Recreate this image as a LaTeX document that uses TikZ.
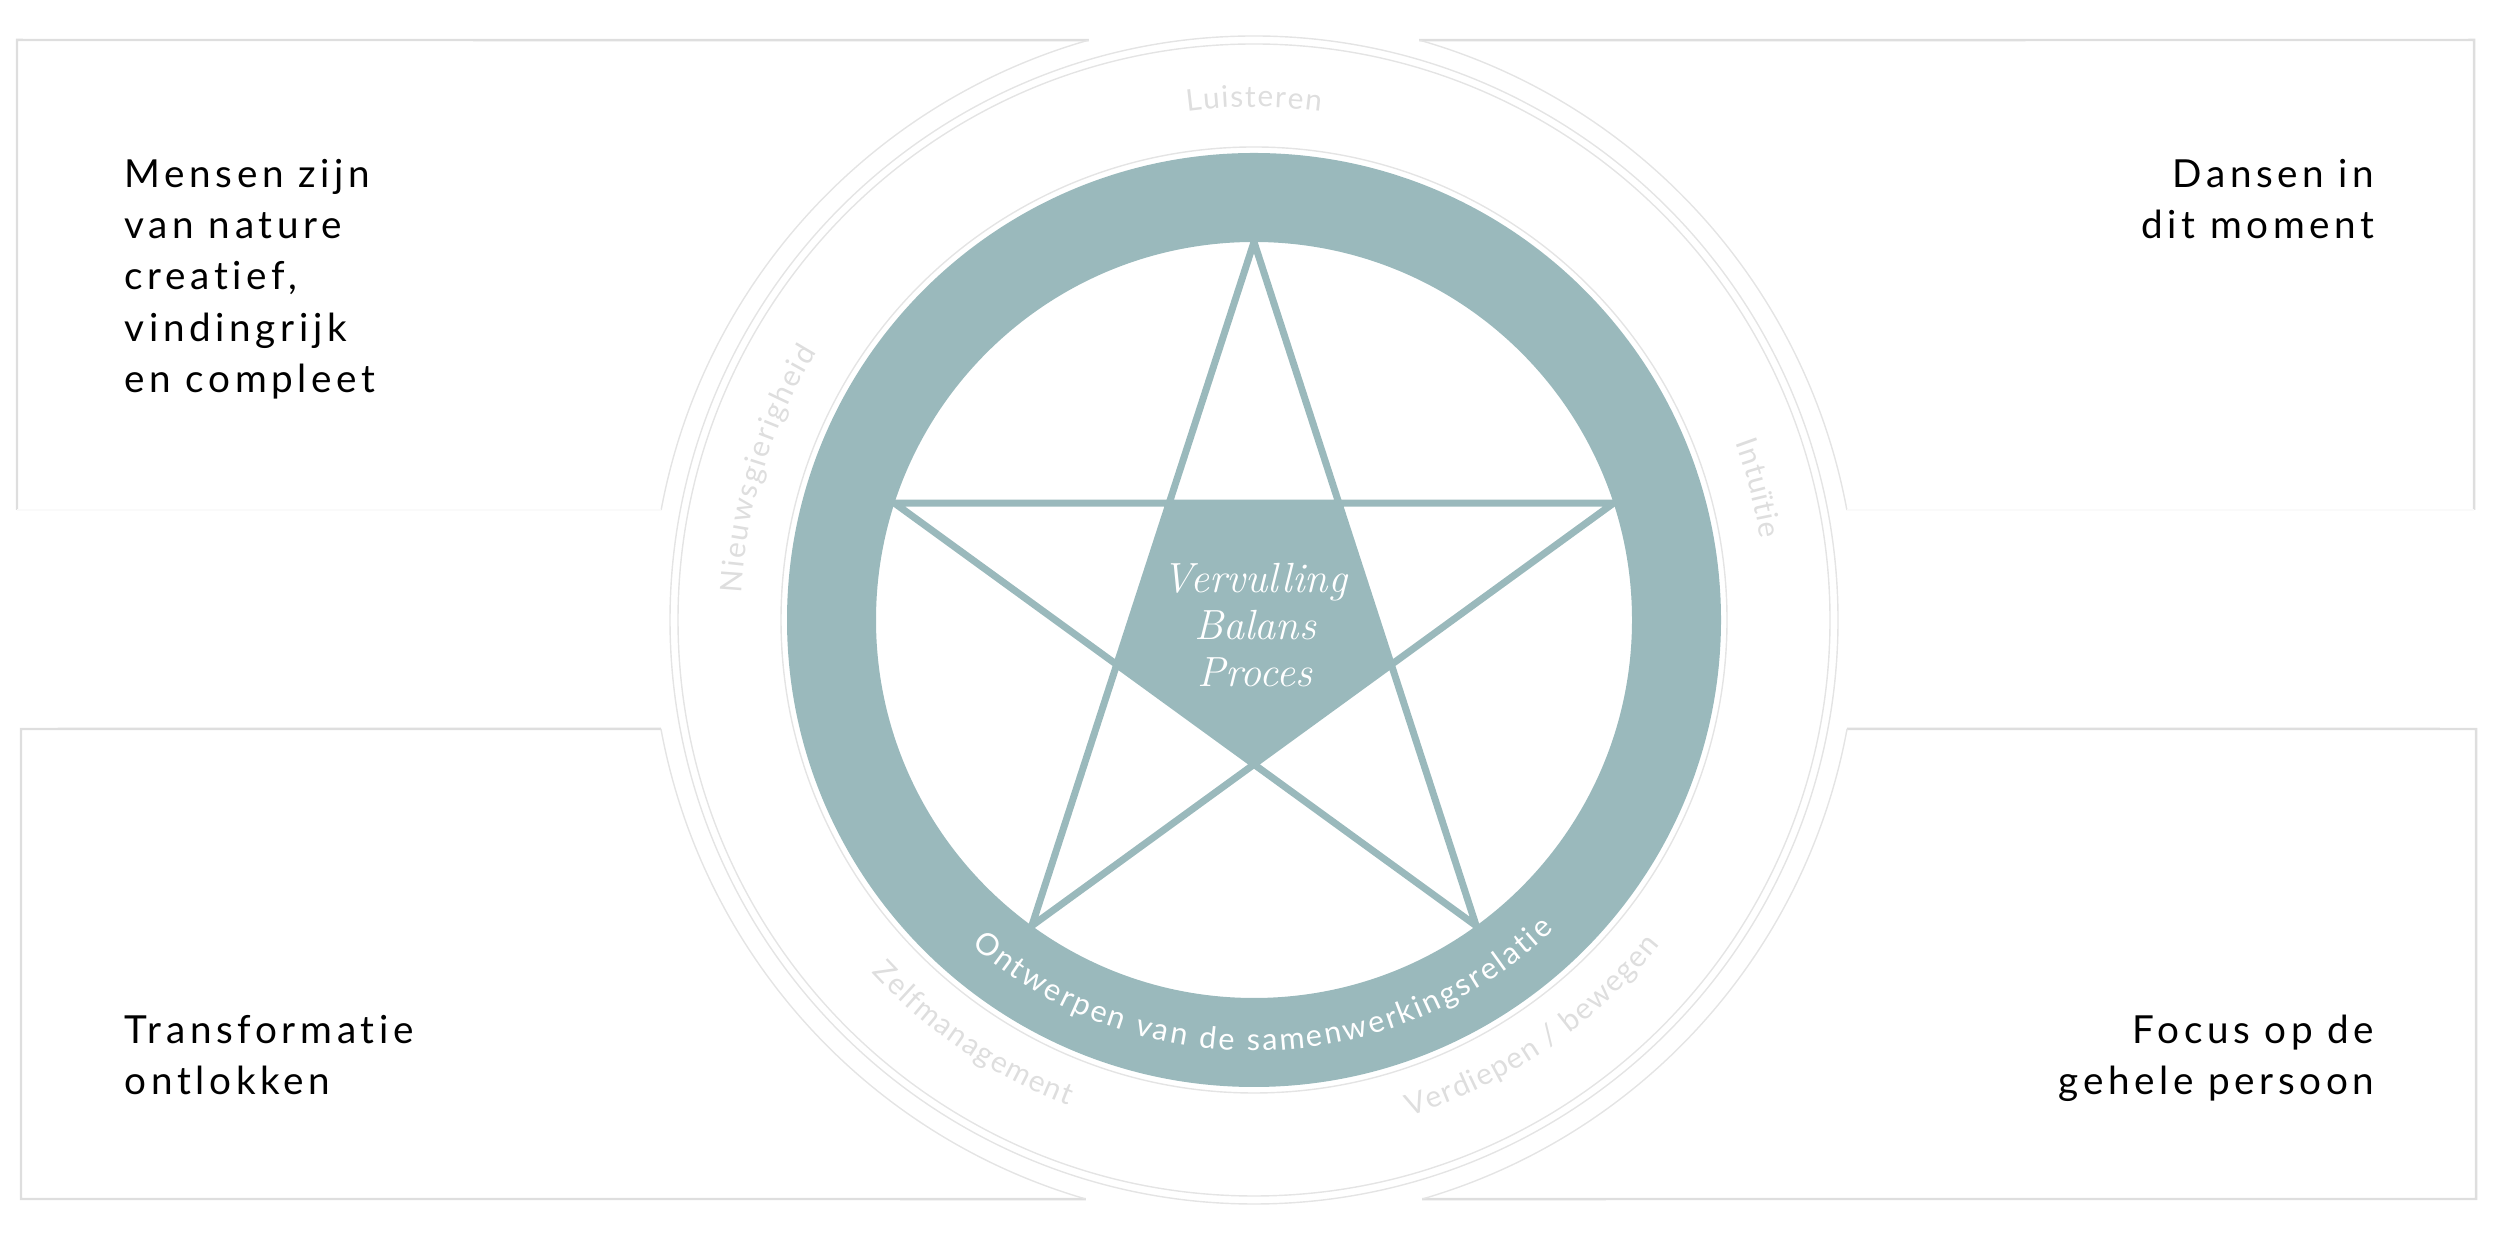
\documentclass[tikz,border=0pt]{standalone}
\usepackage{fontspec}
\usepackage{xcolor}
\usetikzlibrary{calc, decorations.text}

\newfontfamily\cornerfont{Lato}[LetterSpace=12, Ligatures=NoCommon]
\newfontfamily\ringfont{Lato}[Ligatures=NoCommon]
\definecolor{sage}{RGB}{154,185,188}
\definecolor{boxgray}{RGB}{222,222,222}
\definecolor{ringgray}{RGB}{228,228,228}
\definecolor{ghost}{RGB}{222,222,222}

\begin{document}
\begin{tikzpicture}

  \tikzset{
    boxline/.style={draw=boxgray, line width=0.7pt},
    boxfaint/.style={draw=black!2, line width=0.5pt},
    ringline/.style={draw=ringgray, line width=0.4pt},
    starline/.style={draw=sage, line width=0.07cm, line join=miter},
    cornertext/.style={font=\cornerfont\fontsize{11pt}{14.6pt}\selectfont, inner sep=0pt},
    coretext/.style={font=\itshape\fontsize{12pt}{13.4pt}\selectfont, text=white, inner sep=0pt, align=center},
    ghosttext/.style={decorate, decoration={text along path, text align={fit to path}, text color=ghost,
        text={|\ringfont\fontsize{8.5pt}{10pt}\selectfont|#1}}},
    bandtext/.style={decorate, decoration={text along path, text align={fit to path}, text color=white,
        text={|\ringfont\fontsize{8.7pt}{10pt}\selectfont|#1}}},
  }

  \useasboundingbox (0,0) rectangle (25,12.33);
  \coordinate (c) at (12.54,6.13);

  % corner frames
  \draw[boxline] (0.17,7.23) -- (0.17,11.93) -- ($(c)+(105.9:6.03)$);
  \draw[ringline] ($(c)+(105.9:6.03)$) arc[start angle=105.9, end angle=169.5, radius=6.03];
  \draw[boxfaint] ($(c)+(169.5:6.03)$) -- (0.17,7.23);

  \draw[boxline] ($(c)+(74.1:6.03)$) -- (24.74,11.93) -- (24.74,7.23);
  \draw[ringline] ($(c)+(10.5:6.03)$) arc[start angle=10.5, end angle=74.1, radius=6.03];
  \draw[boxfaint] (24.74,7.23) -- ($(c)+(10.5:6.03)$);

  \draw[boxline] ($(c)+(190.4:6.03)$) -- (0.21,5.04) -- (0.21,0.34) -- ($(c)+(253.8:6.03)$);
  \draw[ringline] ($(c)+(253.8:6.03)$) arc[start angle=253.8, end angle=190.4, radius=6.03];

  \draw[boxline] ($(c)+(349.6:6.03)$) -- (24.76,5.04) -- (24.76,0.34) -- ($(c)+(286.2:6.03)$);
  \draw[ringline] ($(c)+(286.2:6.03)$) arc[start angle=286.2, end angle=349.6, radius=6.03];

  % rings
  \draw[ringline] (c) circle (5.84);
  \draw[ringline] (c) circle (5.76);
  \draw[ringline] (c) circle (4.73);
  \fill[sage, even odd rule] (c) circle (4.67) (c) circle (3.78);

  % star
  \foreach \i in {1,...,5} {
    \coordinate (s\i) at ($(c)+({90+72*(\i-1)}:3.78)$);
    \coordinate (p\i) at ($(c)+({270+72*(\i-1)}:1.444)$);
  }
  \draw[starline] (s1) -- (s3) -- (s5) -- (s2) -- (s4) -- cycle;
  \fill[sage] (p1) -- (p2) -- (p3) -- (p4) -- (p5) -- cycle;

  \node[coretext, anchor=base] (core) at (12.55,5.46) {Vervulling\\Balans\\Proces};

  % ring labels
  \path[bandtext={Ontwerpen van de samenwerkingsrelatie}] ($(c)+(229:4.31)$) arc[start angle=229, end angle=314, radius=4.31];
  \path[ghosttext=Luisteren] ($(c)+(97.5:5.13)$) arc[start angle=97.5, end angle=82.5, radius=5.13];
  \path[ghosttext=Nieuwsgierigheid] ($(c)+(177:5.13)$) arc[start angle=177, end angle=148.5, radius=5.13];
  \path[ghosttext=Intuïtie] ($(c)+(20.2:5.13)$) arc[start angle=20.2, end angle=9.1, radius=5.13];
  \path[ghosttext=Zelfmanagement] ($(c)+(222.7:5.2)$) arc[start angle=222.7, end angle=249.1, radius=5.2];
  \path[ghosttext={Verdiepen / bewegen}] ($(c)+(287.4:5.2)$) arc[start angle=287.4, end angle=321.4, radius=5.2];

  % corner texts
  \node[cornertext, anchor=base west, align=left] (mensen) at (1.24,8.405)
    {Mensen zijn\\van nature\\creatief,\\vindingrijk\\en compleet};
  \node[cornertext, anchor=base east, align=right] (dansen) at (23.75,9.94)
    {Dansen in\\dit moment};
  \node[cornertext, anchor=base west, align=left] (transformatie) at (1.24,1.38)
    {Transformatie\\ontlokken};
  \node[cornertext, anchor=base east, align=right] (focus) at (23.75,1.38)
    {Focus op de\\gehele persoon};

\end{tikzpicture}
\end{document}
